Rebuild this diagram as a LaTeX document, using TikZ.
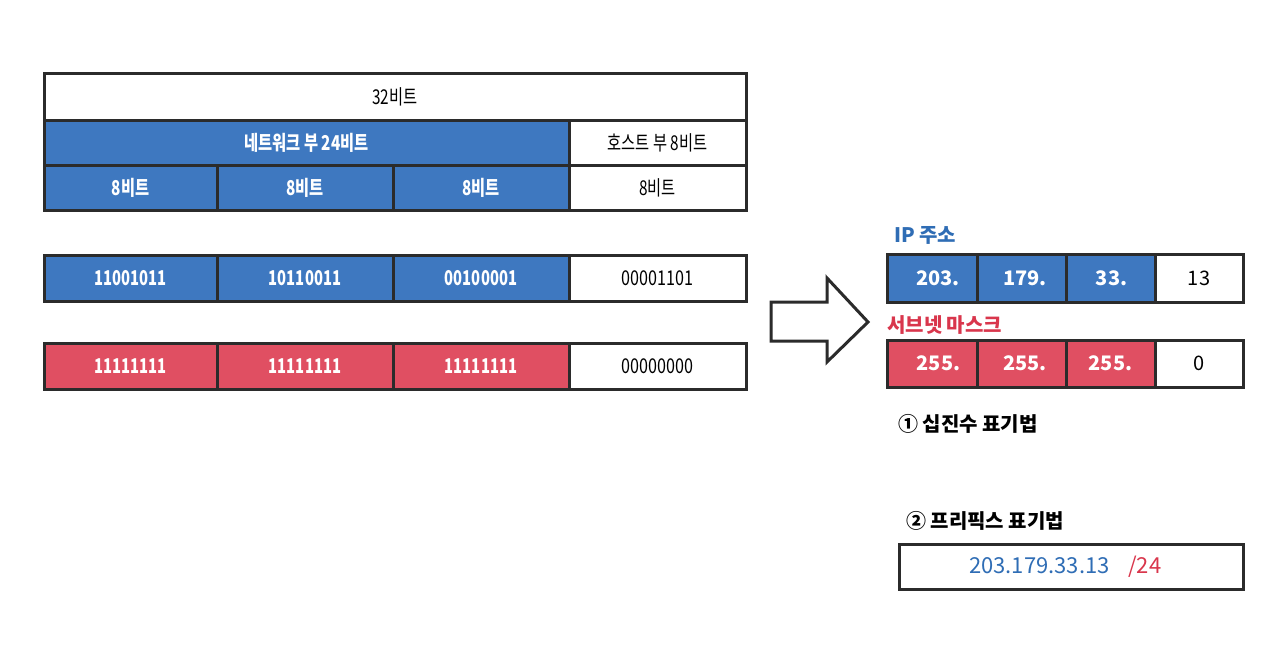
\documentclass[tikz,border=0pt]{standalone}
\usepackage{fontspec}
\setmainfont{Noto Sans CJK KR}
\definecolor{cblue}{HTML}{3E78C0}
\definecolor{cred}{HTML}{E04F62}
\definecolor{tblue}{HTML}{2F6DB5}
\definecolor{tred}{HTML}{D9364C}
\definecolor{bord}{HTML}{2B2B2B}
\newcommand\cnd[1]{\scalebox{0.9}[1.2]{#1}}
\newcommand\cnb[1]{\scalebox{0.95}[1.2]{#1}}
\newcommand\cnw[1]{\scalebox{0.87}[1.2]{#1}}
\tikzset{
  cell/.style={draw=bord, line width=3pt, inner sep=0pt, font=\fontsize{17}{20}\selectfont},
  wcell/.style={cell, fill=white, text=black},
  bcell/.style={cell, fill=cblue, text=white, font=\fontsize{17}{20}\selectfont\bfseries},
  rcell/.style={cell, fill=cred, text=white, font=\fontsize{17}{20}\selectfont\bfseries},
  big/.style={font=\fontsize{20}{24}\selectfont},
  bigb/.style={font=\fontsize{20}{24}\selectfont\bfseries},
  lbl/.style={anchor=west, inner sep=0pt, font=\fontsize{20}{24}\selectfont\bfseries}
}
\begin{document}
\begin{tikzpicture}[x=1pt, y=-1pt]
\useasboundingbox[fill=white] (0,0) rectangle (1280,653);
% top table
\node[wcell, minimum width=702, minimum height=47] (r1) at (395,96.5) {\cnd{32비트}};
\node[bcell, minimum width=525, minimum height=45] (net) at (306.5,142.5) {\cnd{네트워크 부 24비트}};
\node[wcell, minimum width=177, minimum height=45] (host) at (657.5,142.5) {\cnd{호스트 부 8비트}};
\node[bcell, minimum width=173, minimum height=45] (b1) at (130.5,187.5) {\cnd{8비트}};
\node[bcell, minimum width=176, minimum height=45] (b2) at (305,187.5) {\cnd{8비트}};
\node[bcell, minimum width=176, minimum height=45] (b3) at (481,187.5) {\cnd{8비트}};
\node[wcell, minimum width=177, minimum height=45] (b4) at (657.5,187.5) {\cnd{8비트}};
% binary IP
\node[bcell, minimum width=173, minimum height=46] (i1) at (130.5,278) {\cnw{11001011}};
\node[bcell, minimum width=176, minimum height=46] (i2) at (305,278) {\cnw{10110011}};
\node[bcell, minimum width=176, minimum height=46] (i3) at (481,278) {\cnw{00100001}};
\node[wcell, minimum width=177, minimum height=46] (i4) at (657.5,278) {\cnb{00001101}};
% binary mask
\node[rcell, minimum width=173, minimum height=46] (m1) at (130.5,366) {\cnw{11111111}};
\node[rcell, minimum width=176, minimum height=46] (m2) at (305,366) {\cnw{11111111}};
\node[rcell, minimum width=176, minimum height=46] (m3) at (481,366) {\cnw{11111111}};
\node[wcell, minimum width=177, minimum height=46] (m4) at (657.5,366) {\cnb{00000000}};
% arrow
\draw[draw=bord, line width=3pt, fill=white, line join=miter]
  (771,302) -- (827,302) -- (827,278) -- (868,322) -- (827,362) -- (827,341) -- (771,341) -- cycle;
% right: IP
\node[lbl, text=tblue] (iplbl) at (894,235) {IP 주소};
\node[bcell, bigb, minimum width=90, minimum height=48] (d1) at (932,278) {\hspace{12pt}203.};
\node[bcell, bigb, minimum width=89, minimum height=48] (d2) at (1021.5,278) {\hspace{7pt}179.};
\node[bcell, bigb, minimum width=89, minimum height=48] (d3) at (1110.5,278) {\hspace{2pt}33.};
\node[wcell, big, minimum width=88, minimum height=48] (d4) at (1199,278) {13};
% right: mask
\node[lbl, text=tred] (mlbl) at (887,325) {서브넷 마스크};
\node[rcell, bigb, minimum width=90, minimum height=47] (s1) at (932,363.5) {\hspace{13pt}255.};
\node[rcell, bigb, minimum width=89, minimum height=47] (s2) at (1021.5,363.5) {\hspace{7pt}255.};
\node[rcell, bigb, minimum width=89, minimum height=47] (s3) at (1110.5,363.5) {255.};
\node[wcell, big, minimum width=88, minimum height=47] (s4) at (1199,363.5) {0};
% notations
\node[lbl, text=black] (n1) at (898,424) {① 십진수 표기법};
\node[lbl, text=black] (n2) at (906,521) {② 프리픽스 표기법};
\node[wcell, minimum width=344, minimum height=45] (pfx) at (1071,566.5) {};
\node[anchor=base west, inner sep=0pt, text=tblue, font=\fontsize{22}{26}\selectfont] (pip) at (969,573) {203.179.33.13};
\node[anchor=base west, inner sep=0pt, text=tred, font=\fontsize{22}{26}\selectfont] (plen) at (1128,573) {/24};
\end{tikzpicture}
\end{document}
